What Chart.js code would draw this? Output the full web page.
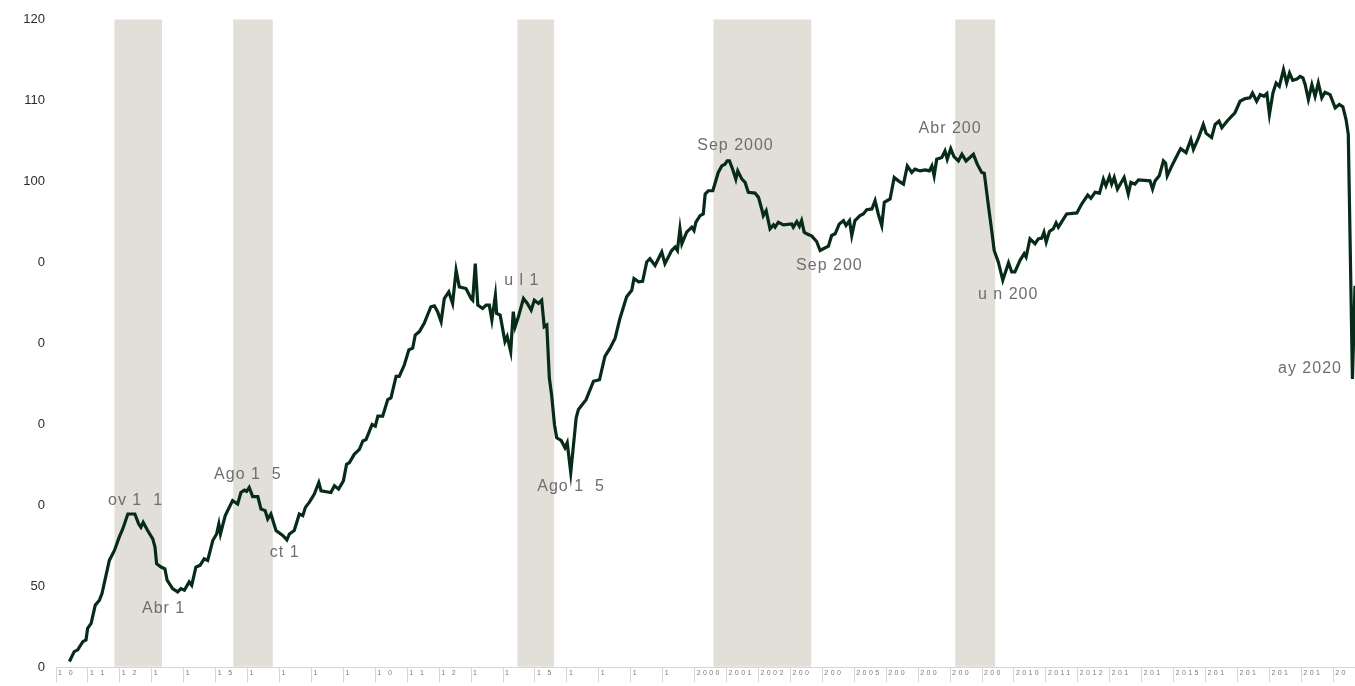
<!DOCTYPE html>
<html lang="es">
<head>
<meta charset="UTF-8">
<title>Índice</title>
<script src="https://cdn.jsdelivr.net/npm/chart.js"></script>
<style>
  html, body { margin: 0; padding: 0; background: #fff; }
  .wrap { position: relative; width: 1355px; height: 686px; }
</style>
</head>
<body>
<div class="wrap"><canvas id="chart"></canvas></div>
<script>
// monthly-ish readings of the index (decimal year, value)
const dates = [
  1980.42,1980.57,1980.68,1980.84,1980.94,1980.99,1981.10,1981.23,1981.36,1981.44,
  1981.67,1981.83,1981.98,1982.09,1982.25,1982.47,1982.59,1982.66,1982.73,1982.87,
  1983.03,1983.10,1983.15,1983.29,1983.41,1983.48,1983.65,1983.81,1983.91,1984.02,
  1984.17,1984.25,1984.38,1984.51,1984.64,1984.75,1984.91,1985.03,1985.10,1985.15,
  1985.30,1985.53,1985.69,1985.79,1985.90,1985.97,1986.05,1986.16,1986.32,1986.42,
  1986.55,1986.63,1986.73,1986.89,1987.10,1987.23,1987.31,1987.46,1987.62,1987.73,
  1987.81,1987.93,1988.09,1988.23,1988.30,1988.61,1988.72,1988.85,1989.00,1989.10,
  1989.19,1989.34,1989.50,1989.61,1989.71,1989.90,1990.00,1990.08,1990.23,1990.39,
  1990.49,1990.65,1990.75,1990.91,1991.05,1991.17,1991.25,1991.38,1991.53,1991.74,
  1991.85,1991.95,1992.06,1992.16,1992.30,1992.42,1992.53,1992.63,1992.84,1993.00,
  1993.05,1993.13,1993.21,1993.36,1993.47,1993.57,1993.65,1993.76,1993.80,1993.91,
  1994.06,1994.13,1994.24,1994.32,1994.38,1994.48,1994.64,1994.76,1994.88,1994.98,
  1995.11,1995.21,1995.29,1995.37,1995.45,1995.52,1995.61,1995.68,1995.82,1995.94,
  1996.01,1996.12,1996.29,1996.36,1996.60,1996.83,1997.02,1997.19,1997.35,1997.51,
  1997.66,1997.87,1998.03,1998.10,1998.24,1998.37,1998.50,1998.60,1998.76,1998.97,
  1999.07,1999.28,1999.39,1999.46,1999.54,1999.60,1999.75,1999.91,1999.98,2000.04,
  2000.17,2000.27,2000.33,2000.43,2000.57,2000.74,2000.85,2000.95,2001.02,2001.09,
  2001.19,2001.29,2001.35,2001.48,2001.58,2001.68,2001.89,2002.00,2002.10,2002.15,
  2002.24,2002.36,2002.47,2002.52,2002.62,2002.78,2003.04,2003.09,2003.20,2003.28,
  2003.35,2003.43,2003.51,2003.67,2003.82,2003.93,2004.03,2004.19,2004.29,2004.40,
  2004.53,2004.66,2004.74,2004.85,2004.92,2005.02,2005.18,2005.28,2005.39,2005.55,
  2005.65,2005.75,2005.86,2005.94,2006.12,2006.25,2006.38,2006.54,2006.66,2006.80,
  2006.90,2007.06,2007.22,2007.35,2007.43,2007.50,2007.58,2007.74,2007.84,2007.91,
  2008.02,2008.12,2008.26,2008.37,2008.50,2008.73,2008.85,2008.99,2009.07,2009.20,
  2009.31,2009.38,2009.51,2009.65,2009.83,2009.93,2010.03,2010.19,2010.32,2010.38,
  2010.50,2010.66,2010.76,2010.87,2010.94,2011.01,2011.11,2011.23,2011.32,2011.39,
  2011.65,2011.97,2012.12,2012.31,2012.41,2012.54,2012.68,2012.80,2012.88,2012.99,
  2013.06,2013.14,2013.24,2013.45,2013.58,2013.66,2013.79,2013.90,2014.26,2014.34,
  2014.42,2014.55,2014.68,2014.75,2014.80,2014.97,2015.10,2015.22,2015.39,2015.54,
  2015.62,2015.78,2015.93,2016.02,2016.19,2016.30,2016.42,2016.51,2016.67,2016.82,
  2016.92,2017.08,2017.24,2017.39,2017.47,2017.60,2017.71,2017.83,2017.92,2018.00,
  2018.11,2018.21,2018.31,2018.44,2018.54,2018.63,2018.73,2018.86,2018.96,2019.05,
  2019.12,2019.22,2019.33,2019.43,2019.53,2019.64,2019.74,2019.90,2020.06,2020.19,
  2020.30,2020.40,2020.47,2020.60,2020.68
];
const values = [
  40.70,41.93,42.14,43.16,43.37,44.79,45.41,47.67,48.28,49.09,
  53.19,54.42,56.06,57.08,58.92,58.92,57.69,57.28,57.90,56.88,
  55.85,54.83,52.78,52.37,52.16,50.74,49.71,49.30,49.71,49.51,
  50.53,50.12,52.37,52.58,53.39,53.19,55.65,56.46,57.69,56.46,
  58.72,60.57,60.15,61.58,61.87,61.71,62.20,61.06,61.06,59.53,
  59.34,58.30,58.92,56.88,56.27,55.73,56.46,56.88,58.92,58.72,
  59.74,60.36,61.38,62.81,61.79,61.58,62.41,61.99,63.02,65.06,
  65.27,66.29,66.90,67.94,68.13,69.98,69.78,71.01,71.01,73.05,
  73.26,75.92,75.92,77.35,79.19,79.40,81.03,81.45,82.47,84.52,
  84.64,83.91,82.68,85.54,86.36,84.93,89.02,86.98,86.77,85.54,
  85.33,89.84,84.72,84.31,84.72,84.72,82.87,85.95,83.70,83.49,
  80.22,80.84,78.99,83.91,82.06,83.29,85.54,84.93,84.10,85.33,
  84.93,85.33,82.06,82.26,75.71,73.66,69.98,68.34,68.01,67.11,
  67.73,64.04,70.80,71.82,73.05,75.31,75.50,78.38,79.40,80.63,
  83.08,85.75,86.56,88.00,87.59,87.67,90.05,90.45,89.63,91.28,
  89.84,91.47,91.89,91.47,94.14,92.30,93.73,94.35,93.93,94.96,
  95.77,95.98,98.44,98.85,98.85,101.11,101.92,102.13,102.53,102.53,
  101.51,100.28,101.30,100.28,99.88,98.65,98.56,98.03,96.60,95.77,
  96.39,94.14,94.63,94.35,94.96,94.63,94.75,94.35,95.04,94.47,
  95.16,93.73,93.53,93.24,92.58,91.47,91.68,92.01,93.32,93.53,
  94.75,95.16,94.55,95.16,93.32,95.16,95.77,95.98,96.51,96.60,
  97.62,95.98,94.55,97.42,97.83,100.49,100.07,99.67,101.92,101.11,
  101.51,101.30,101.43,101.30,101.92,100.69,102.74,102.95,103.76,102.74,
  104.05,103.07,102.53,103.35,102.53,103.35,102.13,101.11,101.02,97.00,
  93.73,91.47,90.05,87.79,89.96,88.82,88.82,90.25,91.07,90.66,
  92.91,92.30,92.91,93.00,93.73,92.51,93.81,94.14,94.88,94.35,
  95.98,96.11,97.21,98.32,97.91,98.65,98.56,100.28,99.46,100.61,
  99.67,100.49,99.05,100.49,98.44,99.88,99.67,100.20,100.07,99.05,
  100.07,100.69,102.53,102.25,100.69,102.13,103.14,104.05,103.56,105.20,
  103.97,105.41,107.04,105.93,105.41,107.04,107.44,106.63,107.44,108.06,
  108.48,109.90,110.23,110.32,110.93,109.90,110.72,110.52,110.85,108.27,
  110.93,112.16,111.74,113.80,112.16,113.39,112.48,112.65,112.97,112.78,
  111.95,110.11,111.95,110.52,112.16,110.32,111.01,110.72,109.09,109.50,
  109.21,107.65,105.81,75.60,87.10
];

// shaded periods (peak to trough)
const bandStart = [1981.83, 1985.55, 1994.45, 2000.59, 2008.16];
const bandEnd = [1983.32, 1986.79, 1995.60, 2003.65, 2009.41];

// labels on the line, as printed in the picture
const noteText = ['ov 1  1', 'Abr 1', 'Ago 1  5', 'ct 1', 'u l 1', 'Ago 1  5',
  'Sep 2000', 'Sep 200', 'Abr 200', 'u n 200', 'ay 2020'];
const noteDate = [1982.49, 1983.37, 1986.01, 1987.16, 1994.59, 1996.13,
  2001.28, 2004.22, 2008.00, 2009.82, 2019.27];
const noteValue = [60.6, 47.2, 63.8, 54.1, 87.75, 62.3, 104.4, 89.6, 106.55, 86.0, 76.9];

const yearLabels = [
  '1 0', '1 1', '1 2', '1', '1', '1 5', '1', '1', '1', '1',
  '1 0', '1 1', '1 2', '1', '1', '1 5', '1', '1', '1', '1',
  '2000', '2001', '2002', '200', '200', '2005', '200', '200', '200', '200',
  '2010', '2011', '2012', '201', '201', '2015', '201', '201', '201', '201',
  '20'
];
const tickYears = yearLabels.map((_, i) => 1980 + i);

const yTicks = [40, 50, 60, 70, 80, 90, 100, 110, 120];
const yLabels = ['0', '50', '0', '0', '0', '0', '100', '110', '120'];

const FONT = '"Liberation Sans", Arial, sans-serif';

const bands = {
  id: 'bands',
  beforeDatasetsDraw(chart) {
    const { ctx, chartArea, scales: { x } } = chart;
    ctx.save();
    ctx.fillStyle = '#e1dfd7';
    bandStart.forEach((s, i) => {
      const x0 = x.getPixelForValue(s);
      const x1 = x.getPixelForValue(bandEnd[i]);
      ctx.fillRect(x0, chartArea.top, x1 - x0, chartArea.bottom - chartArea.top - 0.5);
    });
    ctx.restore();
  }
};

const texts = {
  id: 'texts',
  afterDraw(chart) {
    const { ctx, scales: { x, y } } = chart;
    ctx.save();
    // year labels inside the boxes under the axis
    ctx.letterSpacing = '2.4px';
    ctx.font = '7px ' + FONT;
    ctx.fillStyle = '#7a7a7a';
    ctx.textAlign = 'left';
    ctx.textBaseline = 'middle';
    tickYears.forEach((yr, i) => {
      ctx.fillText(yearLabels[i], x.getPixelForValue(yr) + 2, x.top + 5.5);
    });
    // peak / trough labels
    ctx.letterSpacing = '1px';
    ctx.font = '16px ' + FONT;
    ctx.fillStyle = '#6e6e6e';
    ctx.textAlign = 'center';
    noteText.forEach((t, i) => {
      ctx.fillText(t, x.getPixelForValue(noteDate[i]), y.getPixelForValue(noteValue[i]));
    });
    ctx.restore();
  }
};

new Chart(document.getElementById('chart'), {
  type: 'line',
  data: {
    datasets: [{
      data: dates.map((d, i) => ({ x: d, y: values[i] })),
      borderColor: '#062b19',
      borderWidth: 3.2,
      pointRadius: 0,
      tension: 0,
      fill: false
    }]
  },
  options: {
    responsive: true,
    maintainAspectRatio: false,
    animation: false,
    layout: { padding: { top: 19.5, right: 0, bottom: 0, left: 0 } },
    plugins: { legend: { display: false }, tooltip: { enabled: false } },
    scales: {
      x: {
        type: 'linear',
        min: 1980,
        max: 2020.68,
        afterBuildTicks: (s) => { s.ticks = tickYears.map((v) => ({ value: v })); },
        afterFit: (s) => { s.height = 15; },
        grid: { drawOnChartArea: false, drawTicks: true, tickLength: 15, color: '#d6d6d6' },
        border: { display: true, color: '#d6d6d6' },
        ticks: { display: false }
      },
      y: {
        min: 40,
        max: 120,
        afterBuildTicks: (s) => { s.ticks = yTicks.map((v) => ({ value: v })); },
        afterFit: (s) => { s.width = 56; },
        grid: { display: false, drawTicks: false },
        border: { display: false },
        ticks: {
          padding: 11,
          color: '#2b2b2b',
          font: { size: 13, family: FONT },
          callback: (v) => yLabels[yTicks.indexOf(v)]
        }
      }
    }
  },
  plugins: [bands, texts]
});
</script>
</body>
</html>
